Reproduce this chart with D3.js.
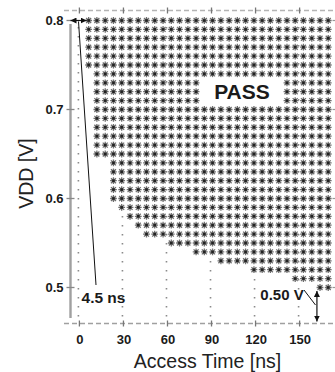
<!DOCTYPE html>
<html>
<head>
<meta charset="utf-8">
<script src="https://cdn.jsdelivr.net/npm/d3@7"></script>
<style>
  html, body { margin: 0; padding: 0; background: #fff; }
  svg { display: block; font-family: "Liberation Sans", Arial, sans-serif; }
</style>
</head>
<body>
<svg id="chart" width="335" height="372"></svg>
<script>
// shmoo grid: access time sweep (ns) and supply sweep (V)
const accessTimes = [6.3, 11.9, 17.6, 23.2, 28.8, 34.5, 40.1, 45.7, 51.3, 57.0,
  62.6, 68.2, 73.9, 79.5, 85.1, 90.7, 96.4, 102.0, 107.6, 113.2,
  118.9, 124.5, 130.1, 135.8, 141.4, 147.0, 152.6, 158.3, 163.9, 169.5];
const vddLevels = [0.80, 0.79, 0.78, 0.77, 0.76, 0.75, 0.74, 0.73, 0.72, 0.71,
  0.70, 0.69, 0.68, 0.67, 0.66, 0.65, 0.64, 0.63, 0.62, 0.61,
  0.60, 0.59, 0.58, 0.57, 0.56, 0.55, 0.54, 0.53, 0.52, 0.51, 0.50];
// shortest passing access time at each VDD (same order as vddLevels)
const minPassTime = [6.3, 6.3, 6.3, 6.3, 6.3, 6.3, 11.9, 11.9, 11.9, 11.9,
  11.9, 11.9, 11.9, 11.9, 11.9, 11.9, 23.2, 23.2, 23.2, 23.2,
  23.2, 28.8, 34.5, 40.1, 45.7, 62.6, 79.5, 96.4, 118.9, 147.0, 163.9];

const xTicks = [0, 30, 60, 90, 120, 150];
const yTicks = [0.5, 0.6, 0.7, 0.8];

const svg = d3.select("#chart");
const x = d3.scaleLinear().domain([0, 150]).range([79.4, 299.6]);
const y = d3.scaleLinear().domain([0.5, 0.8]).range([287.5, 20.5]);

const frameL = 70.5, frameR = 336.5, frameT = 10.5, frameB = 323.5;

// dotted vertical gridlines
svg.append("g").selectAll("line").data(xTicks).join("line")
  .attr("x1", d => x(d) - 1).attr("x2", d => x(d) - 1)
  .attr("y1", 27).attr("y2", 318)
  .attr("stroke", "#8a8a8a").attr("stroke-width", 1.6)
  .attr("stroke-dasharray", "1.6 7.4");

// frame: dashed top/bottom, solid left
svg.append("line").attr("x1", 64).attr("x2", frameR).attr("y1", frameT).attr("y2", frameT)
  .attr("stroke", "#b4b4b4").attr("stroke-width", 1.5).attr("stroke-dasharray", "5 3");
svg.append("line").attr("x1", 64).attr("x2", frameR).attr("y1", frameB).attr("y2", frameB)
  .attr("stroke", "#a0a0a0").attr("stroke-width", 1.5).attr("stroke-dasharray", "5 3");
svg.append("line").attr("x1", frameL).attr("x2", frameL).attr("y1", 24).attr("y2", 318)
  .attr("stroke", "#a0a0a0").attr("stroke-width", 2.4);

// "+" ticks on the frame
for (const yy of [frameT, frameB]) {
  svg.append("g").selectAll("line").data(xTicks).join("line")
    .attr("x1", d => x(d)).attr("x2", d => x(d))
    .attr("y1", yy - 3).attr("y2", yy + 3)
    .attr("stroke", "#777").attr("stroke-width", 1.3);
}
svg.append("g").selectAll("line").data(yTicks).join("line")
  .attr("x1", frameL - 4).attr("x2", frameL + 4)
  .attr("y1", d => y(d)).attr("y2", d => y(d))
  .attr("stroke", "#888").attr("stroke-width", 1.3);
svg.append("g").selectAll("line").data(yTicks).join("line")
  .attr("x1", frameR - 4).attr("x2", frameR)
  .attr("y1", d => y(d)).attr("y2", d => y(d))
  .attr("stroke", "#999").attr("stroke-width", 1.2);

// axes labels
const xAxis = svg.append("g").attr("transform", `translate(0,${frameB})`)
  .call(d3.axisBottom(x).tickValues(xTicks).tickSize(0).tickPadding(11.5));
const yAxis = svg.append("g").attr("transform", `translate(${frameL},0)`)
  .call(d3.axisLeft(y).tickValues(yTicks).tickSize(0).tickPadding(7).tickFormat(d3.format(".1f")));
for (const ax of [xAxis, yAxis]) {
  ax.select(".domain").remove();
  ax.selectAll("text").attr("font-size", 13).attr("font-weight", "bold")
    .attr("fill", "#1a1a1a").style("font-family", '"Liberation Sans", Arial, sans-serif');
}

// pass points
const cells = [];
vddLevels.forEach((v, i) => {
  for (const t of accessTimes) if (t >= minPassTime[i] - 0.01) cells.push({ t, v });
});
const star = "M-3.4,0H3.4M0,-3.4V3.4M-2.5,-2.5L2.5,2.5M-2.5,2.5L2.5,-2.5";
const pts = svg.append("g").selectAll("g").data(cells).join("g")
  .attr("transform", d => `translate(${x(d.t)},${y(d.v)})`);
pts.append("path").attr("d", star).attr("stroke", "#707070").attr("stroke-width", 1.3).attr("fill", "none");
pts.append("rect").attr("x", -1.3).attr("y", -1.3).attr("width", 2.6).attr("height", 2.6).attr("fill", "#222");

// PASS label
svg.append("rect").attr("x", 200).attr("y", 77.5).attr("width", 83).attr("height", 27.5).attr("fill", "#fff");
svg.append("text").attr("x", 242).attr("y", 99).attr("text-anchor", "middle")
  .attr("font-size", 21).attr("font-weight", "bold").attr("fill", "#1a1a1a").text("PASS");

// annotations
const defs = svg.append("defs");
defs.append("marker").attr("id", "ah").attr("viewBox", "0 0 10 10")
  .attr("refX", 10).attr("refY", 5).attr("markerWidth", 6).attr("markerHeight", 6)
  .attr("markerUnits", "userSpaceOnUse").attr("orient", "auto-start-reverse")
  .append("path").attr("d", "M0,0L10,5L0,10Z").attr("fill", "#111");

svg.append("line").attr("x1", frameL).attr("x2", x(accessTimes[0]) - 2)
  .attr("y1", y(0.8)).attr("y2", y(0.8))
  .attr("stroke", "#111").attr("stroke-width", 1.2)
  .attr("marker-start", "url(#ah)").attr("marker-end", "url(#ah)");
svg.append("line").attr("x1", 78.5).attr("y1", y(0.8) + 1).attr("x2", 96).attr("y2", 285)
  .attr("stroke", "#111").attr("stroke-width", 1);
svg.append("text").attr("x", 103.5).attr("y", 303).attr("text-anchor", "middle")
  .attr("font-size", 15.5).attr("font-weight", "bold").attr("fill", "#1a1a1a").text("4.5 ns");

svg.append("line").attr("x1", x(161.8)).attr("x2", x(161.8))
  .attr("y1", y(0.5) + 3.5).attr("y2", frameB - 2)
  .attr("stroke", "#111").attr("stroke-width", 1.2)
  .attr("marker-start", "url(#ah)").attr("marker-end", "url(#ah)");
svg.append("line").attr("x1", 304).attr("y1", 290).attr("x2", 315.5).attr("y2", 305)
  .attr("stroke", "#111").attr("stroke-width", 1);
svg.append("text").attr("x", 282).attr("y", 300).attr("text-anchor", "middle")
  .attr("font-size", 15).attr("font-weight", "bold").attr("fill", "#1a1a1a").text("0.50 V");

// axis titles
svg.append("text").attr("x", 207.5).attr("y", 368).attr("text-anchor", "middle")
  .attr("font-size", 19.5).attr("fill", "#222").text("Access Time [ns]");
svg.append("text").attr("transform", "translate(33,173.5) rotate(-90)").attr("text-anchor", "middle")
  .attr("font-size", 19.5).attr("fill", "#222").text("VDD [V]");
</script>
</body>
</html>
